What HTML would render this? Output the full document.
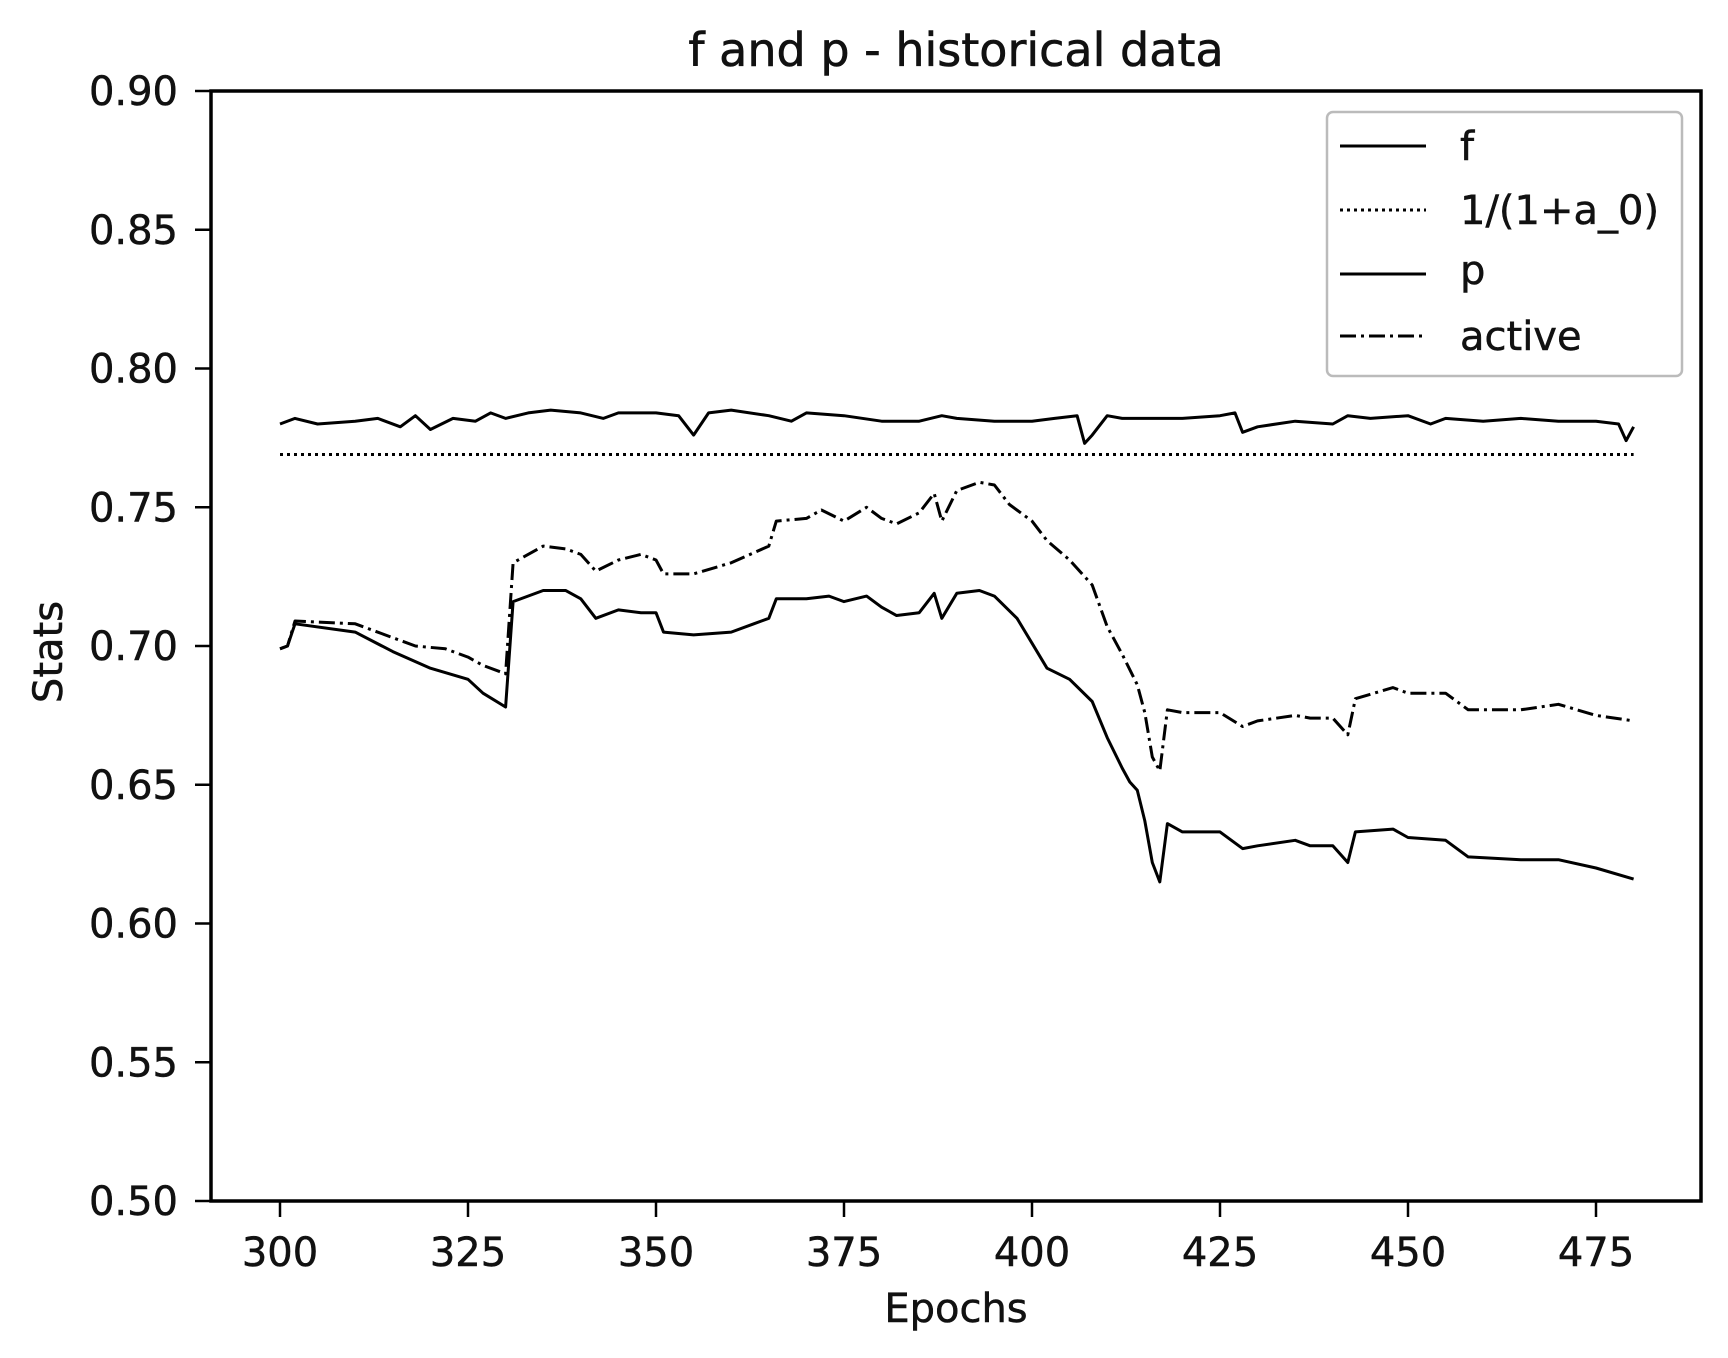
<!DOCTYPE html>
<html><head><meta charset="utf-8"><style>
html,body{margin:0;padding:0;background:#fff;}
svg{display:block;font-family:"DejaVu Sans","Liberation Sans",sans-serif;}
</style></head><body>
<svg id="chart" width="1728" height="1358" viewBox="0 0 1728 1358" xmlns="http://www.w3.org/2000/svg">
<rect width="1728" height="1358" fill="#fff"/>
<text x="956" y="66" font-size="46" text-anchor="middle" fill="#111" stroke="#111" stroke-width="0.6">f and p - historical data</text>
<g id="series"></g>
<rect x="211" y="91" width="1490" height="1110" fill="none" stroke="#000" stroke-width="3.5"/>
<g id="xticks"></g><g id="yticks"></g>
<text x="956" y="1322" font-size="40" text-anchor="middle" fill="#111" stroke="#111" stroke-width="0.5">Epochs</text>
<text x="62" y="652" font-size="40" text-anchor="middle" fill="#111" stroke="#111" stroke-width="0.5" transform="rotate(-90 62 652)">Stats</text>
<g>
<rect x="1327" y="112" width="355" height="264" rx="6" fill="#fff" stroke="#bbb" stroke-width="2.5"/>
<g><line x1="1340" y1="146" x2="1426" y2="146" stroke="#000" stroke-width="3"/><text x="1460" y="160" font-size="40" fill="#111" stroke="#111" stroke-width="0.5">f</text></g>
<g><line x1="1340" y1="210" x2="1426" y2="210" stroke="#000" stroke-width="3" stroke-dasharray="3,4"/><text x="1460" y="224" font-size="40" fill="#111" stroke="#111" stroke-width="0.5">1/(1+a_0)</text></g>
<g><line x1="1340" y1="274" x2="1426" y2="274" stroke="#000" stroke-width="3"/><text x="1460" y="284" font-size="40" fill="#111" stroke="#111" stroke-width="0.5">p</text></g>
<g><line x1="1340" y1="336" x2="1426" y2="336" stroke="#000" stroke-width="3" stroke-dasharray="16,5,3,5"/><text x="1460" y="350" font-size="40" fill="#111" stroke="#111" stroke-width="0.5">active</text></g>
</g>
</svg>
<script>
const xTicks=[300,325,350,375,400,425,450,475];
const yTicks=[0.50,0.55,0.60,0.65,0.70,0.75,0.80,0.85,0.90];
const fEpochs=[300,302,305,310,313,316,318,320,323,326,328,330,333,336,340,343,345,350,353,355,357,360,365,368,370,375,380,385,388,390,395,400,403,406,407,408,410,412,415,420,425,427,428,430,435,440,442,445,450,453,455,460,465,470,475,478,479,480];
const fVals=[0.780,0.782,0.780,0.781,0.782,0.779,0.783,0.778,0.782,0.781,0.784,0.782,0.784,0.785,0.784,0.782,0.784,0.784,0.783,0.776,0.784,0.785,0.783,0.781,0.784,0.783,0.781,0.781,0.783,0.782,0.781,0.781,0.782,0.783,0.773,0.776,0.783,0.782,0.782,0.782,0.783,0.784,0.777,0.779,0.781,0.780,0.783,0.782,0.783,0.780,0.782,0.781,0.782,0.781,0.781,0.780,0.774,0.779];
const a0Epochs=[300,480];
const a0Vals=[0.769,0.769];
const pEpochs=[300,301,302,310,315,320,325,327,330,331,335,338,340,342,345,348,350,351,355,360,363,365,366,370,373,375,378,380,382,385,387,388,390,393,395,398,400,402,405,408,410,412,413,414,415,416,417,418,420,425,428,430,435,437,440,442,443,448,450,455,458,465,470,475,480];
const pVals=[0.699,0.700,0.708,0.705,0.698,0.692,0.688,0.683,0.678,0.716,0.720,0.720,0.717,0.710,0.713,0.712,0.712,0.705,0.704,0.705,0.708,0.710,0.717,0.717,0.718,0.716,0.718,0.714,0.711,0.712,0.719,0.710,0.719,0.720,0.718,0.710,0.701,0.692,0.688,0.680,0.667,0.656,0.651,0.648,0.637,0.622,0.615,0.636,0.633,0.633,0.627,0.628,0.630,0.628,0.628,0.622,0.633,0.634,0.631,0.630,0.624,0.623,0.623,0.620,0.616];
const activeEpochs=[300,301,302,310,315,318,322,325,327,330,331,335,338,340,342,345,348,350,351,355,360,365,366,370,372,375,378,380,382,385,387,388,390,393,395,397,400,402,405,408,410,412,414,415,416,417,418,420,425,428,430,435,437,440,442,443,448,450,455,458,465,470,475,480];
const activeVals=[0.699,0.700,0.709,0.708,0.703,0.700,0.699,0.696,0.693,0.690,0.730,0.736,0.735,0.733,0.727,0.731,0.733,0.731,0.726,0.726,0.730,0.736,0.745,0.746,0.749,0.745,0.750,0.746,0.744,0.748,0.755,0.745,0.756,0.759,0.758,0.751,0.745,0.738,0.731,0.722,0.707,0.697,0.686,0.676,0.660,0.655,0.677,0.676,0.676,0.671,0.673,0.675,0.674,0.674,0.668,0.681,0.685,0.683,0.683,0.677,0.677,0.679,0.675,0.673];

const NS="http://www.w3.org/2000/svg";
const X0=280,X1=1596,Y0=1201,Y1=91;
function xs(v){return X0+(v-300)/175*(X1-X0);}
function ys(v){return Y0-(v-0.5)/0.4*(Y0-Y1);}
function mk(t,parent){const e=document.createElementNS(NS,t);parent.appendChild(e);return e;}
const sg=document.getElementById('series');
function series(ex,vals,name,dash){
  const p=mk('path',sg);
  
  
  p.setAttribute('d',ex.map((e,i)=>(i?'L':'M')+xs(e).toFixed(1)+','+ys(vals[i]).toFixed(1)).join(' '));
  p.setAttribute('fill','none');p.setAttribute('stroke','#000');p.setAttribute('stroke-width','3');
  p.setAttribute('stroke-linejoin','round');
  if(dash)p.setAttribute('stroke-dasharray',dash);
}
series(fEpochs,fVals,'series-f',null);
series(a0Epochs,a0Vals,'series-a0','3,4');
series(pEpochs,pVals,'series-p',null);
series(activeEpochs,activeVals,'series-active','16,5,3,5');
const xg=document.getElementById('xticks');
xTicks.forEach(t=>{
  const l=mk('line',xg);
  
  
  l.setAttribute('x1',xs(t));l.setAttribute('x2',xs(t));l.setAttribute('y1',Y0);l.setAttribute('y2',Y0+16);
  l.setAttribute('stroke','#000');l.setAttribute('stroke-width','2.5');
  const tx=mk('text',xg);
  
  
  tx.setAttribute('x',xs(t));tx.setAttribute('y',Y0+65);tx.setAttribute('font-size','40');
  tx.setAttribute('stroke','#111');tx.setAttribute('stroke-width','0.5');
  tx.setAttribute('text-anchor','middle');tx.setAttribute('fill','#111');tx.textContent=t;
});
const yg=document.getElementById('yticks');
yTicks.forEach(t=>{
  const l=mk('line',yg);
  
  
  l.setAttribute('x1',195);l.setAttribute('x2',211);l.setAttribute('y1',ys(t));l.setAttribute('y2',ys(t));
  l.setAttribute('stroke','#000');l.setAttribute('stroke-width','2.5');
  const tx=mk('text',yg);
  
  
  tx.setAttribute('x',178);tx.setAttribute('y',ys(t)+14);tx.setAttribute('font-size','40');
  tx.setAttribute('stroke','#111');tx.setAttribute('stroke-width','0.5');
  tx.setAttribute('text-anchor','end');tx.setAttribute('fill','#111');tx.textContent=t.toFixed(2);
});
</script>
</body></html>
